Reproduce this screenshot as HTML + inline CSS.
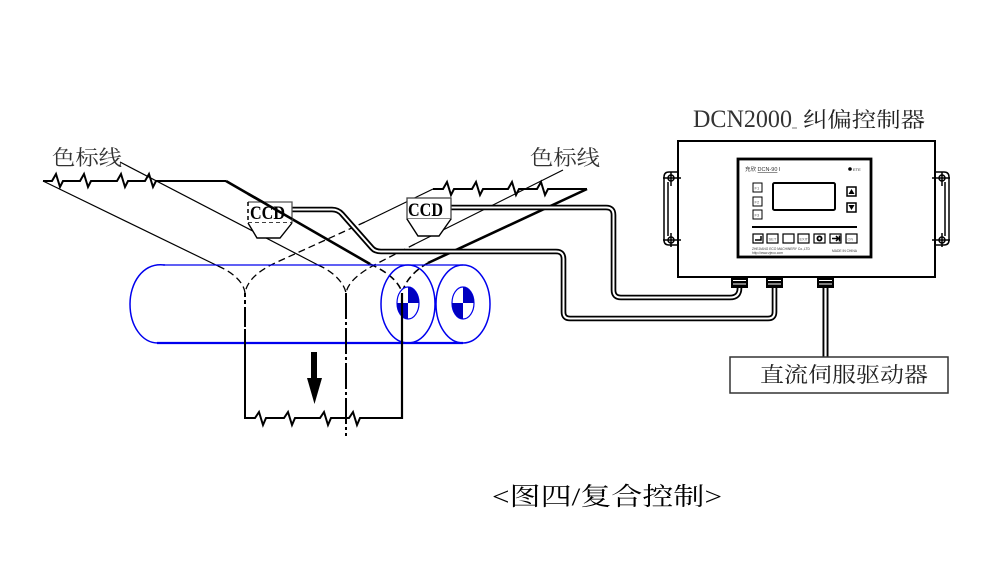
<!DOCTYPE html>
<html>
<head>
<meta charset="utf-8">
<style>
html,body{margin:0;padding:0;background:#fff;}
svg{display:block;}
</style>
</head>
<body>
<svg width="981" height="579" viewBox="0 0 981 579" xmlns="http://www.w3.org/2000/svg">
<rect width="981" height="579" fill="#fff"/>

<!-- ===== Labels ===== -->
<text x="52" y="165" font-family="'Liberation Serif','Noto Serif CJK SC',serif" font-size="21" fill="#333" textLength="70" lengthAdjust="spacingAndGlyphs">色标线</text>
<text x="530" y="165" font-family="'Liberation Serif','Noto Serif CJK SC',serif" font-size="21" fill="#333" textLength="70" lengthAdjust="spacingAndGlyphs">色标线</text>

<!-- ===== Left web ===== -->
<g fill="none" stroke="#000" stroke-linejoin="miter">
  <path d="M43,181 L52,181 L56,174 L60,187 L63,181 L80,181 L84,174 L88,187 L91,181 L117,181 L121,174 L125,187 L128,181 L145,181 L149,174 L153,187 L156,181 L226,181" stroke-width="2"/>
  <path d="M226,181 L370,264" stroke-width="2.6"/>
  <path d="M43,181 L218,266" stroke-width="1.2"/>
  <path d="M120,162 L318,265" stroke-width="1.2"/>
</g>

<!-- ===== Right web ===== -->
<g fill="none" stroke="#000">
  <path d="M433,189 L443,189 L447,182 L451,195 L454,189 L472,189 L476,182 L480,195 L483,189 L508,189 L512,182 L516,195 L519,189 L537,189 L541,182 L545,195 L548,189 L587,189" stroke-width="2"/>
  <path d="M587,189 L428,263" stroke-width="2.6"/>
  <path d="M433,189 L365,222" stroke-width="1.2"/>
  <path d="M563,170 L415,244" stroke-width="1.2"/>
</g>

<!-- dashed hidden parts -->
<g fill="none" stroke="#000" stroke-width="1.3" stroke-dasharray="7,4">
  <path d="M218,266 C234,273 244,283 245,293"/>
  <path d="M365,222 L275,263 C258,271 247,281 245,293"/>
  <path d="M318,265 C334,272 344,283 346,293"/>
  <path d="M415,244 L380,262 C360,272 348,282 346,293"/>
  <path d="M370,264 C388,272 400,283 402,293" stroke-width="1.6"/>
  <path d="M428,263 C415,270 405,281 402,293" stroke-width="1.6"/>
</g>

<!-- ===== Roller (blue) ===== -->
<g fill="none" stroke="#0000ee">
  <path d="M163,265 L463,265" stroke-width="1.3"/>
  <path d="M157,343 L463,343" stroke-width="2.2"/>
  <path d="M165,265 C142,262 130,284 130,304 C130,326 142,343 158,343" stroke-width="1.5"/>
  <ellipse cx="408" cy="304" rx="27" ry="39" stroke-width="1.5"/>
  <ellipse cx="463" cy="304" rx="27" ry="39" stroke-width="1.5"/>
</g>
<g>
  <ellipse cx="408" cy="303" rx="11" ry="16" fill="#fff" stroke="#0000ee" stroke-width="1.2"/>
  <path d="M408,303 L408,287 A11,16 0 0 1 419,303 Z" fill="#0000c0"/>
  <path d="M408,303 L408,319 A11,16 0 0 1 397,303 Z" fill="#0000c0"/>
  <ellipse cx="463" cy="303" rx="11" ry="16" fill="none" stroke="#0000ee" stroke-width="1.2"/>
  <path d="M463,303 L463,287 A11,16 0 0 1 474,303 Z" fill="#0000c0"/>
  <path d="M463,303 L463,319 A11,16 0 0 1 452,303 Z" fill="#0000c0"/>
</g>

<!-- ===== Vertical web lines ===== -->
<g fill="none" stroke="#000" stroke-width="2">
  <path d="M245,293 L245,305" stroke-dasharray="4,3"/>
  <path d="M245,307 L245,327"/>
  <path d="M245,329 L245,419"/>
  <path d="M346,293 L346,436" stroke-dasharray="26,3,3,3"/>
  <path d="M402,293 L402,419" stroke-width="2.2"/>
  <path d="M245,418 L255,418 L259,412 L263,425 L266,418 L284,418 L288,412 L292,425 L295,418 L320,418 L324,412 L328,425 L331,418 L349,418 L353,412 L357,425 L360,418 L402,418"/>
</g>

<!-- arrow -->
<rect x="311" y="352" width="6" height="27" fill="#000"/>
<polygon points="307,378 322,378 314.5,404" fill="#000"/>

<!-- ===== Cables ===== -->
<g fill="none" stroke-linejoin="round">
  <path d="M292,209.5 L332,209.5 Q338,209.5 342,214 L372,248 Q375,251.5 381,251.5 L556,251.5 Q563.5,251.5 563.5,259 L563.5,312 Q563.5,318.5 570,318.5 L768,318.5 Q774.5,318.5 774.5,312 L774.5,287" stroke="#000" stroke-width="5.6"/>
  <path d="M292,209.5 L332,209.5 Q338,209.5 342,214 L372,248 Q375,251.5 381,251.5 L556,251.5 Q563.5,251.5 563.5,259 L563.5,312 Q563.5,318.5 570,318.5 L768,318.5 Q774.5,318.5 774.5,312 L774.5,287" stroke="#fff" stroke-width="2"/>
  <path d="M451,207.5 L606,207.5 Q613.5,207.5 613.5,215 L613.5,290 Q613.5,297.5 621,297.5 L730,297.5 Q739.5,297.5 739.5,288 L739.5,286" stroke="#000" stroke-width="5.6"/>
  <path d="M451,207.5 L606,207.5 Q613.5,207.5 613.5,215 L613.5,290 Q613.5,297.5 621,297.5 L730,297.5 Q739.5,297.5 739.5,288 L739.5,286" stroke="#fff" stroke-width="2"/>
  <path d="M825.5,286 L825.5,357" stroke="#000" stroke-width="6"/>
  <path d="M825.5,286 L825.5,357" stroke="#fff" stroke-width="2.2"/>
</g>

<!-- ===== CCD sensors ===== -->
<g>
  <rect x="248" y="202" width="44" height="21" fill="#fff" stroke="none"/>
  <path d="M248,202 L292,202 L292,223" fill="none" stroke="#555" stroke-width="1.3"/>
  <path d="M248,202 L248,223 L292,223" fill="none" stroke="#000" stroke-width="1.5" stroke-dasharray="4,3"/>
  <path d="M248,223 L257,238 L280,238 L292,223" fill="#fff" stroke="#000" stroke-width="1.4"/>
  <text x="250" y="219" font-family="'Liberation Serif',serif" font-weight="bold" font-size="19" fill="#000" textLength="35" lengthAdjust="spacingAndGlyphs">CCD</text>
  <path d="M248,193.7 L292,219" stroke="#000" stroke-width="2.6"/>
  <rect x="407" y="198" width="44" height="21" fill="#fff" stroke="#444" stroke-width="1.3"/>
  <path d="M407,219 L418,236 L439,236 L451,219" fill="#fff" stroke="#000" stroke-width="1.4"/>
  <text x="408" y="216" font-family="'Liberation Serif',serif" font-weight="bold" font-size="19" fill="#000" textLength="35" lengthAdjust="spacingAndGlyphs">CCD</text>
</g>

<!-- ===== Controller ===== -->
<text x="693" y="127" font-family="'Liberation Serif',serif" font-size="25" fill="#333" textLength="99" lengthAdjust="spacingAndGlyphs">DCN2000</text>
<line x1="792" y1="128" x2="797" y2="128" stroke="#777" stroke-width="1"/>
<text x="803" y="127" font-family="'Liberation Serif','Noto Serif CJK SC',serif" font-size="21" fill="#222" textLength="122" lengthAdjust="spacingAndGlyphs">纠偏控制器</text>

<rect x="678" y="141" width="257" height="136" fill="#fff" stroke="#000" stroke-width="2"/>

<g fill="none" stroke="#000" stroke-width="1.5">
  <path d="M678,172 L669,172 Q664,172 664,177 L664,240 Q664,245 669,245 L678,245"/>
  <line x1="668" y1="182" x2="668" y2="236"/>
  <path d="M935,172 L944,172 Q949,172 949,177 L949,240 Q949,245 944,245 L935,245"/>
  <line x1="945" y1="182" x2="945" y2="236"/>
</g>
<g stroke="#000" stroke-width="1.5" fill="#fff">
  <circle cx="671" cy="178" r="3"/><line x1="663" y1="178" x2="681" y2="178"/><line x1="671" y1="172" x2="671" y2="186"/>
  <circle cx="671" cy="240" r="3"/><line x1="663" y1="240" x2="681" y2="240"/><line x1="671" y1="233" x2="671" y2="247"/>
  <circle cx="942" cy="178" r="3"/><line x1="932" y1="178" x2="950" y2="178"/><line x1="942" y1="172" x2="942" y2="186"/>
  <circle cx="942" cy="240" r="3"/><line x1="932" y1="240" x2="950" y2="240"/><line x1="942" y1="233" x2="942" y2="247"/>
</g>

<rect x="738" y="159" width="133" height="98" fill="#fff" stroke="#000" stroke-width="2.8"/>
<text x="745" y="171" font-family="'Liberation Sans','Noto Sans CJK SC',sans-serif" font-size="5.5" fill="#333">充欣 <tspan text-decoration="underline">DCN-90</tspan> I</text>
<circle cx="850" cy="169" r="1.8" fill="#000"/>
<text x="853" y="171" font-family="'Liberation Sans',sans-serif" font-size="4" fill="#333">ETE</text>
<rect x="773" y="183" width="62" height="27" rx="1.5" fill="#fff" stroke="#000" stroke-width="2"/>
<g fill="#fff" stroke="#000" stroke-width="1">
  <rect x="753" y="183" width="9" height="9"/>
  <rect x="753" y="197" width="9" height="9"/>
  <rect x="753" y="210" width="9" height="9"/>
  <rect x="847" y="187" width="9" height="9" stroke-width="1.5"/>
  <rect x="847" y="203" width="9" height="9" stroke-width="1.5"/>
</g>
<g font-family="'Liberation Sans',sans-serif" font-size="4" fill="#555">
  <text x="754.5" y="189.5">F1</text><text x="754.5" y="203.5">F2</text><text x="754.5" y="216.5">F3</text>
</g>
<polygon points="848.5,194 854.5,194 851.5,189" fill="#000"/>
<polygon points="848.5,205 854.5,205 851.5,210" fill="#000"/>
<line x1="752" y1="227" x2="857" y2="227" stroke="#000" stroke-width="2"/>
<g fill="#fff" stroke="#000" stroke-width="1.2">
  <rect x="753" y="234" width="10" height="9"/>
  <rect x="767" y="234" width="11" height="9"/>
  <rect x="783" y="234" width="11" height="9"/>
  <rect x="798" y="234" width="11" height="9"/>
  <rect x="814" y="234" width="11" height="9"/>
  <rect x="830" y="234" width="11" height="9"/>
  <rect x="846" y="234" width="11" height="9"/>
</g>
<path d="M755,240 L761,240 L761,236" fill="none" stroke="#000" stroke-width="1.5"/>
<text x="768.5" y="240.5" font-family="'Liberation Sans',sans-serif" font-size="4" fill="#555">SET</text>
<text x="799.5" y="240.5" font-family="'Liberation Sans',sans-serif" font-size="3.8" fill="#555">EXIT</text>
<circle cx="819.5" cy="238.5" r="3" fill="#000"/><circle cx="819.5" cy="238.5" r="1.2" fill="#fff"/>
<path d="M832,238.5 L838,238.5 M836,236 L838.5,238.5 L836,241 M839.5,235.5 L839.5,241.5" fill="none" stroke="#000" stroke-width="1.5"/>
<text x="847.5" y="240.5" font-family="'Liberation Sans',sans-serif" font-size="3.8" fill="#777">ON</text>
<g font-family="'Liberation Sans',sans-serif" font-size="3.3" fill="#333">
  <text x="752" y="250">ZHEJIANG ECO MACHINERY Co.,LTD</text>
  <text x="752" y="254">http://www.zjeco.com</text>
  <text x="832" y="252">MADE IN CHINA</text>
</g>

<g fill="#000">
  <rect x="731" y="277" width="17" height="11"/>
  <rect x="766" y="277" width="17" height="11"/>
  <rect x="817" y="277" width="17" height="11"/>
</g>
<g stroke="#fff" stroke-width="1">
  <line x1="733" y1="280.5" x2="746" y2="280.5"/><line x1="733" y1="284" x2="746" y2="284"/>
  <line x1="768" y1="280.5" x2="781" y2="280.5"/><line x1="768" y1="284" x2="781" y2="284"/>
  <line x1="819" y1="280.5" x2="832" y2="280.5"/><line x1="819" y1="284" x2="832" y2="284"/>
</g>

<rect x="730" y="357" width="218" height="36" fill="#fff" stroke="#333" stroke-width="1.5"/>
<text x="760" y="382" font-family="'Liberation Serif','Noto Serif CJK SC',serif" font-size="21" fill="#222" textLength="168" lengthAdjust="spacingAndGlyphs">直流伺服驱动器</text>

<text x="492" y="505" font-family="'Liberation Serif','Noto Serif CJK SC',serif" font-size="25" fill="#000" textLength="230" lengthAdjust="spacingAndGlyphs">&lt;图四/复合控制&gt;</text>
</svg>
</body>
</html>
